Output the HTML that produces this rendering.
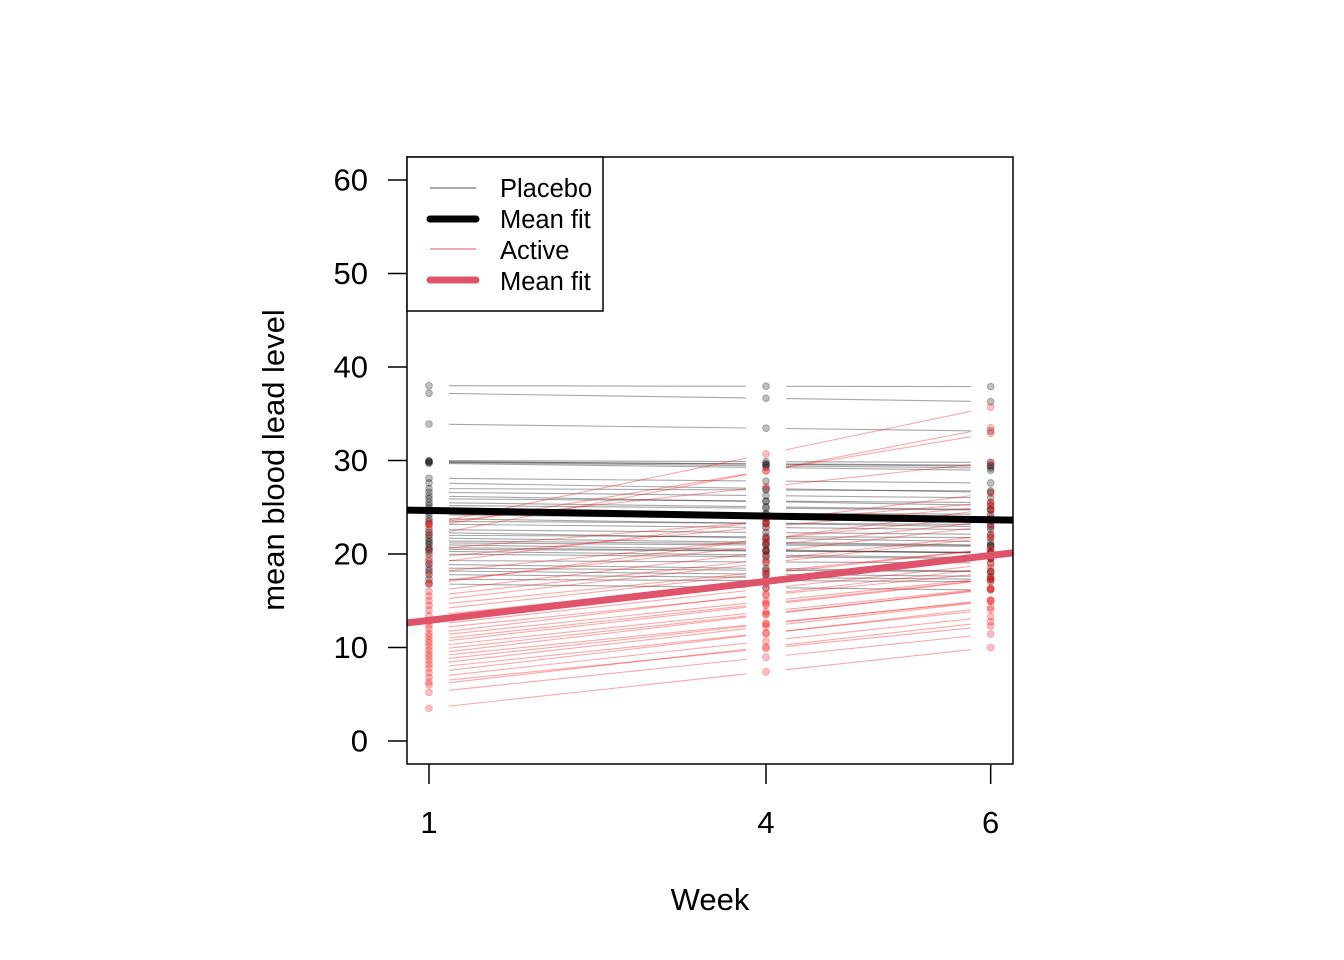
<!DOCTYPE html>
<html><head><meta charset="utf-8"><style>
html,body{margin:0;padding:0;background:#fff}
svg{display:block;font-family:"Liberation Sans",sans-serif}
</style></head><body>
<svg id="chart" width="1344" height="960" viewBox="0 0 1344 960">
<rect width="1344" height="960" fill="#fff"/>
<g id="plot"></g>
<g id="axes"></g>
</svg>
<script>
const weeks = [1, 4, 6];
const yTicks = [0, 10, 20, 30, 40, 50, 60];
const placeboStart = [38, 37.2, 33.9, 30, 29.9, 29.85, 29.8, 29.7, 28.1, 27.6, 27.0, 26.6, 26.2, 25.9, 25.5, 25.2, 24.9, 24.5, 24.2, 23.8, 23.5, 23.2, 22.6, 22.3, 22.0, 21.7, 21.4, 21.2, 21.0, 20.7, 20.5, 20.3, 20.0, 19.3, 18.9, 18.5, 18.2, 17.8, 17.3, 16.8];
const placeboSlope = [-0.02, -0.18, -0.15, -0.04, -0.1, -0.07, -0.12, -0.15, -0.1, -0.2, -0.05, -0.12, -0.2, -0.08, -0.15, -0.1, -0.22, -0.05, -0.13, -0.18, -0.07, -0.12, -0.1, -0.2, -0.05, -0.15, -0.1, -0.08, -0.18, -0.12, -0.06, -0.14, -0.1, -0.05, -0.15, -0.08, -0.12, -0.1, -0.05, -0.13];
const activeStart = [3.5, 5.2, 6.0, 6.3, 6.8, 7.3, 7.8, 8.2, 8.6, 9.0, 9.3, 9.7, 10.1, 10.5, 10.8, 11.2, 11.5, 12.0, 12.4, 12.8, 13.4, 14.0, 14.5, 15.0, 15.5, 16.0, 16.8, 17.0, 18.0, 19.0, 19.6, 20.5, 22.0, 22.9, 23.2, 23.3];
const activeSlope = [1.3, 1.25, 1.35, 1.2, 1.3, 1.4, 1.25, 1.35, 1.3, 1.2, 1.4, 1.3, 1.25, 1.35, 1.3, 1.25, 1.4, 1.2, 1.3, 1.35, 1.25, 1.3, 1.2, 1.35, 1.3, 1.4, 1.6, 1.3, 1.2, 1.5, 1.1, 1.0, 2.3, 2.0, 2.5, 1.3];
const meanPlacebo = [24.66, -0.2];
const meanActive = [12.9, 1.39];

const X = w => 429 + (w - 1) * (337 / 3);
const Y = v => 741 - v * 9.35;
const NS = 'http://www.w3.org/2000/svg';
const plot = document.getElementById('plot');
const axes = document.getElementById('axes');
function mk(tag, attrs, parent) {
  const e = document.createElementNS(NS, tag);
  for (const k in attrs) e.setAttribute(k, attrs[k]);
  parent.appendChild(e);
  return e;
}
const defs = mk('clipPath', {id: 'clip'}, plot);
mk('rect', {x: 407, y: 157, width: 606, height: 607}, defs);

function subject(start, slope, col, i, grp) {
  const pts = weeks.map(w => [X(w), Y(start + slope * (w - 1))]);
  for (let s = 0; s < 2; s++) {
    const [x1, y1] = pts[s], [x2, y2] = pts[s + 1];
    const L = Math.hypot(x2 - x1, y2 - y1), g = 20 / L;
    const seg = mk('line', {x1: x1 + (x2 - x1) * g, y1: y1 + (y2 - y1) * g, x2: x2 - (x2 - x1) * g, y2: y2 - (y2 - y1) * g, stroke: col, 'stroke-opacity': 0.35, 'stroke-width': 1.1}, plot);
    
    
  }
  pts.forEach((p, j) => {
    const c = mk('circle', {cx: p[0], cy: p[1], r: 3.4, fill: col, 'fill-opacity': 0.25, stroke: col, 'stroke-opacity': 0.25}, plot);
    
    
  });
}
placeboStart.forEach((v, i) => subject(v, placeboSlope[i], '#000', i, 'placebo'));
activeStart.forEach((v, i) => subject(v, activeSlope[i], '#ff0000', i, 'active'));

function meanLine(m, col, name) {
  const l = mk('line', {x1: 407, y1: Y(m[0] + m[1] * ((407 - 429) / (337 / 3))), x2: 1013, y2: Y(m[0] + m[1] * ((1013 - 429) / (337 / 3))), stroke: col, 'stroke-width': 7, 'clip-path': 'url(#clip)'}, plot);
  
  
}
meanLine(meanPlacebo, '#000', 'placebo-mean-fit');
meanLine(meanActive, '#DF536B', 'active-mean-fit');

const box = mk('rect', {x: 407, y: 157, width: 606, height: 607, fill: 'none', stroke: '#000', 'stroke-width': 1.5}, axes);


yTicks.forEach(t => {
  const tk = mk('line', {x1: 388, x2: 407, y1: Y(t), y2: Y(t), stroke: '#000', 'stroke-width': 1.5}, axes);
  
  
  const tx = mk('text', {x: 368, y: Y(t) + 10.5, 'font-size': 31, 'text-anchor': 'end'}, axes);
  tx.textContent = t;
  
  
});
weeks.forEach(w => {
  const tk = mk('line', {x1: X(w), x2: X(w), y1: 764, y2: 784, stroke: '#000', 'stroke-width': 1.5}, axes);
  
  
  const tx = mk('text', {x: X(w), y: 833, 'font-size': 31, 'text-anchor': 'middle'}, axes);
  tx.textContent = w;
  
  
});
</script>
<svg style="position:absolute;left:0;top:0" width="1344" height="960">
<text x="710" y="910" font-size="31" text-anchor="middle" font-family="Liberation Sans,sans-serif">Week</text>
<text transform="translate(284,460) rotate(-90)" font-size="31" text-anchor="middle" font-family="Liberation Sans,sans-serif">mean blood lead level</text>
<g font-family="Liberation Sans,sans-serif" font-size="25.5">
<rect x="407" y="157" width="196" height="154" fill="#fff" stroke="#000" stroke-width="1.5"/>
<line x1="430" x2="476" y1="188" y2="188" stroke="#555" stroke-width="1"/>
<text x="500" y="197">Placebo</text>
<line x1="430" x2="476" y1="219" y2="219" stroke="#000" stroke-width="7" stroke-linecap="round"/>
<text x="500" y="228">Mean fit</text>
<line x1="430" x2="476" y1="249" y2="249" stroke="#DF536B" stroke-width="1"/>
<text x="500" y="259">Active</text>
<line x1="430" x2="476" y1="280" y2="280" stroke="#DF536B" stroke-width="7" stroke-linecap="round"/>
<text x="500" y="290">Mean fit</text>
</g>
</svg>
</body></html>
